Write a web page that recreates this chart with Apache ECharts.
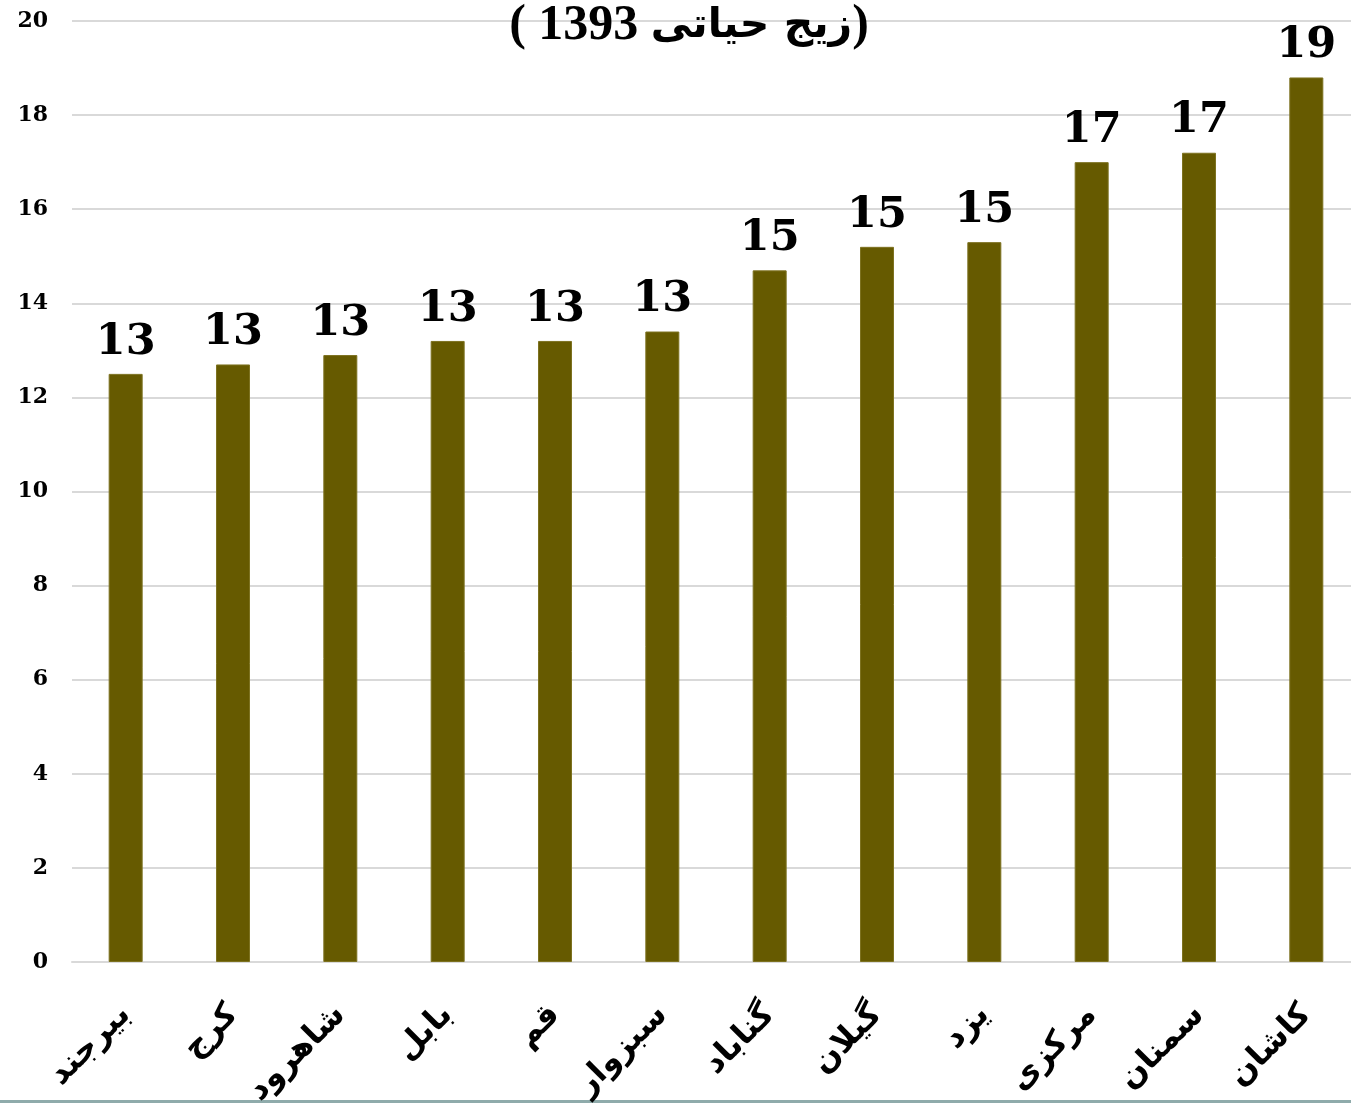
<!DOCTYPE html>
<html>
<head>
<meta charset="utf-8">
<script src="https://cdn.jsdelivr.net/npm/echarts@6/dist/echarts.min.js"></script>
<style>
	html, body { margin: 0; padding: 0; background: #fff; }
	#chart { width: 1351px; height: 1103px; }
</style>
</head>
<body>
<div id="chart"></div>
<script>
	// title pieces, laid out left to right as they appear
	var titleYear = '1393'
	var titleWords = 'زیج حیاتی'
	var cities = ['بیرجند', 'کرج', 'شاهرود', 'بابل', 'قم', 'سبزوار', 'گناباد', 'گیلان', 'یزد', 'مرکزی', 'سمنان', 'کاشان']
	var values = [12.5, 12.7, 12.9, 13.2, 13.2, 13.4, 14.7, 15.2, 15.3, 17.0, 17.2, 18.8]
	var yTicks = [0, 2, 4, 6, 8, 10, 12, 14, 16, 18, 20]

	var myChart = echarts.init(document.getElementById('chart'))

	var option = {
		animation: false,
		title: {
			text: '{p|( }{n|' + titleYear + ' }{a|' + titleWords + '}{p|)}',
			left: 684,
			textAlign: 'center',
			top: -4,
			textStyle: {
				rich: {
					p: { fontFamily: 'Liberation Serif', fontWeight: 'bold', fontSize: 50, color: '#000' },
					n: { fontFamily: 'Liberation Serif', fontWeight: 'bold', fontSize: 50, color: '#000' },
					a: { fontFamily: 'DejaVu Sans', fontWeight: 'bold', fontSize: 41, color: '#000' }
				}
			}
		},
		grid: {
			left: 72,
			width: 1288,
			top: 21,
			bottom: 141,
			outerBoundsMode: 'none'
		},
		xAxis: {
			type: 'category',
			data: cities,
			axisLine: { show: true, lineStyle: { color: '#d9d9d9', width: 2 } },
			axisTick: { show: false },
			axisLabel: {
				rotate: 45,
				interval: 0,
				margin: 48,
				fontFamily: 'DejaVu Sans',
				fontWeight: 'bold',
				fontSize: 32,
				color: '#000'
			}
		},
		yAxis: {
			type: 'value',
			min: yTicks[0],
			max: yTicks[yTicks.length - 1],
			interval: 2,
			axisLine: { show: false },
			axisTick: { show: false },
			splitLine: { lineStyle: { color: '#d9d9d9', width: 2 } },
			axisLabel: {
				margin: 24,
				fontFamily: 'DejaVu Serif',
				fontWeight: 'bold',
				fontSize: 22,
				color: '#000'
			}
		},
		series: [{
			type: 'bar',
			data: values,
			barWidth: 34,
			itemStyle: {
				color: '#665a00',
				borderColor: '#7d7220',
				borderWidth: 1
			},
			label: {
				show: true,
				position: 'top',
				distance: 10,
				formatter: function (p) { return Math.round(p.value) },
				fontFamily: 'DejaVu Serif',
				fontWeight: 'bold',
				fontSize: 43,
				color: '#000'
			}
		}],
		graphic: [{
			type: 'rect',
			left: 0,
			bottom: 0,
			shape: { width: 1351, height: 3 },
			style: { fill: '#8fabab' }
		}]
	}

	myChart.setOption(option)
</script>
</body>
</html>
